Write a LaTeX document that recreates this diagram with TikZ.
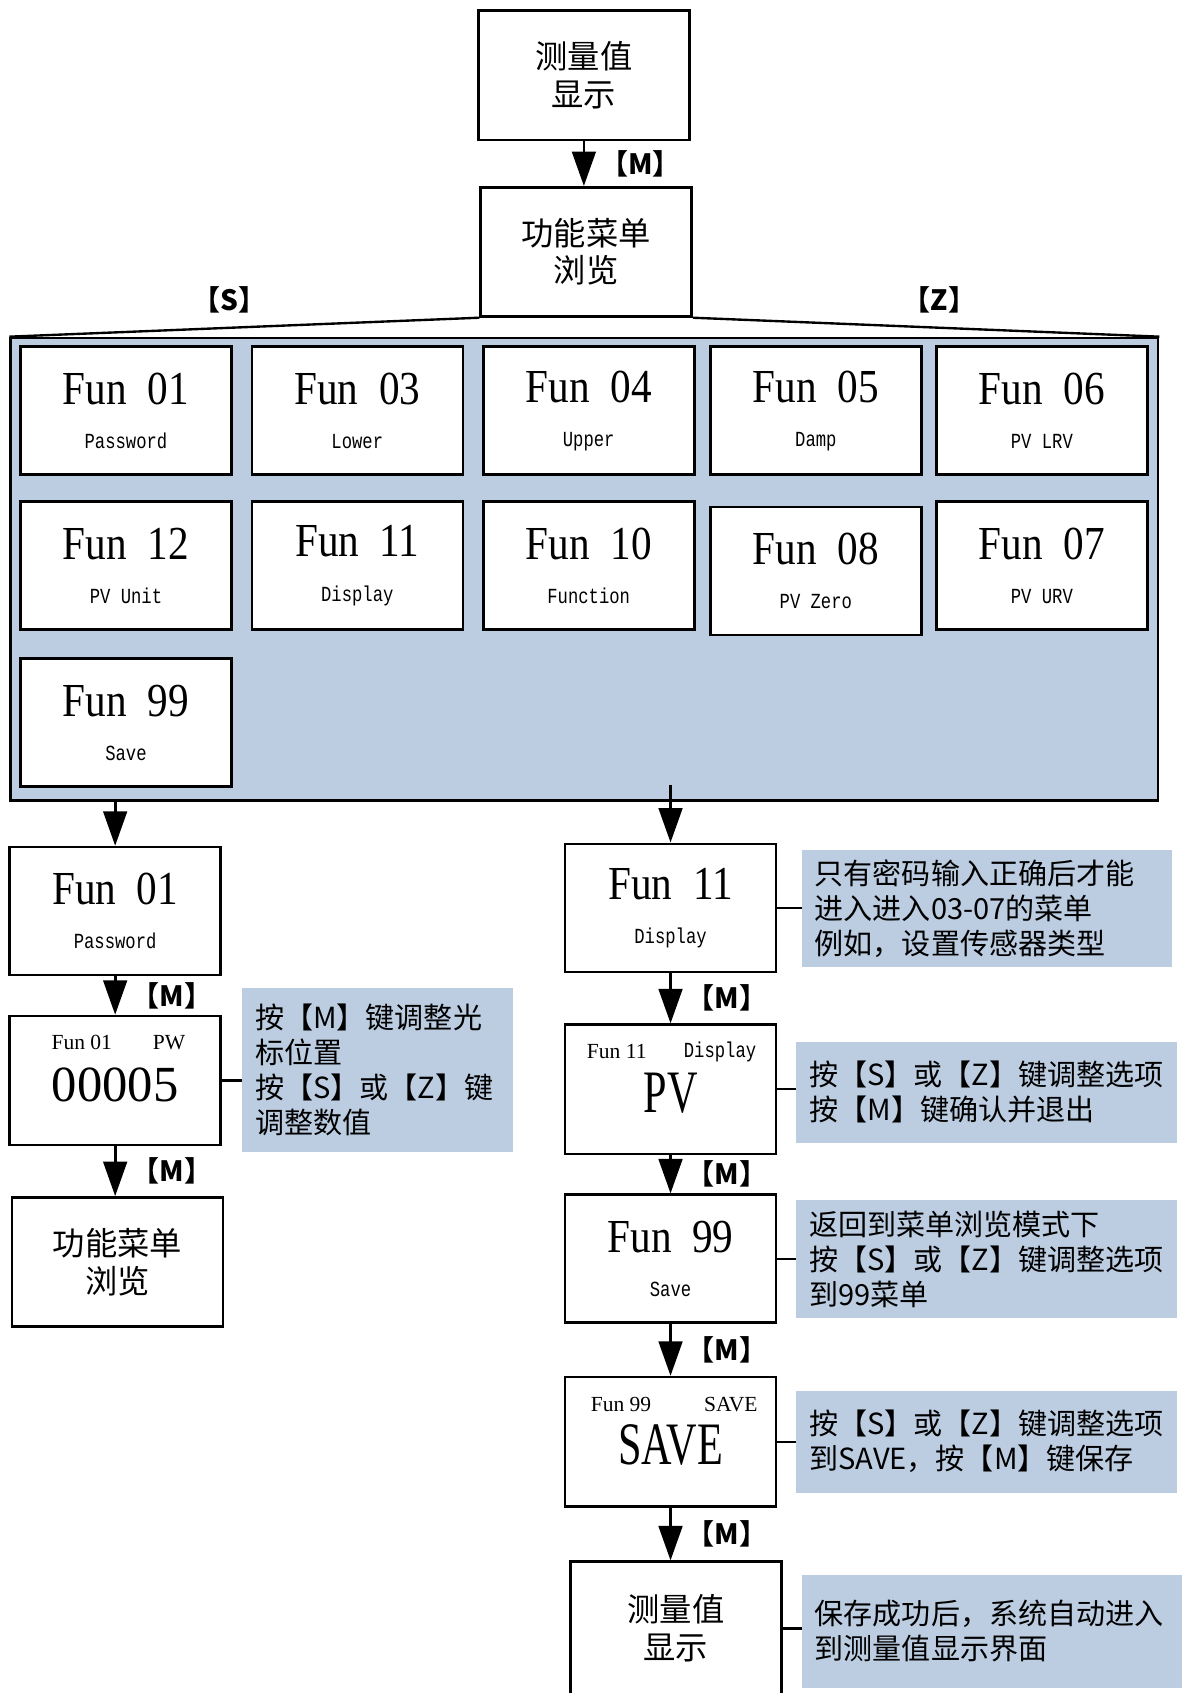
\documentclass[tikz,border=0pt]{standalone}
\usepackage{fontspec}
\setmainfont{Liberation Serif}
\newfontfamily\cjk{Noto Sans CJK SC}
\newfontfamily\narrow[FakeStretch=0.87]{Liberation Serif}
\newfontfamily\capnarrow[FakeStretch=0.7]{Liberation Serif}
\newfontfamily\smallmono[FakeStretch=0.8]{Liberation Mono}
\usetikzlibrary{positioning}
\usetikzlibrary{arrows.meta}
\definecolor{panelblue}{RGB}{188,205,225}
\newcommand{\cellsub}[1]{{\smallmono\fontsize{20}{20}\selectfont #1}}
\tikzset{menubox/.style={draw, line width=2.4pt, fill=white, minimum width=196pt, minimum height=120pt, inner sep=0pt, align=center, font=\cjk\fontsize{30}{35}\selectfont},
  funcell/.style={menubox, minimum height=119pt, font=\narrow\fontsize{44}{44}\selectfont},
  notebox/.style={fill=panelblue, inner xsep=12pt, inner ysep=0pt, align=left, font=\cjk\fontsize{27}{32.5}\selectfont},
  keylabel/.style={font=\cjk\bfseries\fontsize{26}{26}\selectfont, inner sep=0pt},
  hdrtext/.style={font=\fontsize{20}{20}\selectfont, inner sep=0pt},
  bigtext/.style={font=\capnarrow\fontsize{56}{56}\selectfont, inner sep=0pt},
  post/.style={-{Triangle[length=32pt, width=22pt]}, line width=2.5pt},
  conn/.style={line width=2.2pt}}
\begin{document}
\begin{tikzpicture}[x=1pt, y=-1pt]
  \useasboundingbox (0,0) rectangle (1100,1573);

  % top
  \node (meas) at (542.5,70) [menubox] {测量值\\显示};
  \node (menu) at (544.5,234) [menubox] {功能菜单\\浏览};
  \draw[post] (meas.south) -- node[keylabel, right=14pt] {【M】} (meas.south |- menu.north);

  % menu panel
  \node (panel) at (543,529) [draw, line width=2.4pt, fill=panelblue, minimum width=1066pt, minimum height=430pt, inner sep=0pt] {};
  \draw[conn] (menu.south west) -- (panel.north west);
  \draw[conn] (menu.south east) -- (panel.north east);
  \node (keyS) at (213,279) [keylabel] {【S】};
  \node (keyZ) at (873,279) [keylabel] {【Z】};

  \node (f01) at (117,381.5) [funcell] {Fun\ \ 01\\[-3pt]\cellsub{Password}};
  \node (f03) at (332,381.5) [funcell] {Fun\ \ 03\\[-3pt]\cellsub{Lower}};
  \node (f04) at (547,381.5) [funcell] {Fun\ \ 04\\[-3pt]\cellsub{Upper}};
  \node (f05) at (758,381.5) [funcell] {Fun\ \ 05\\[-3pt]\cellsub{Damp}};
  \node (f06) at (968,381.5) [funcell] {Fun\ \ 06\\[-3pt]\cellsub{PV LRV}};
  \node (f12) at (117,525.5) [funcell] {Fun\ \ 12\\[-3pt]\cellsub{PV Unit}};
  \node (f11) at (332,525.5) [funcell] {Fun\ \ 11\\[-3pt]\cellsub{Display}};
  \node (f10) at (547,525.5) [funcell] {Fun\ \ 10\\[-3pt]\cellsub{Function}};
  \node (f08) at (758,530.5) [funcell] {Fun\ \ 08\\[-3pt]\cellsub{PV Zero}};
  \node (f07) at (968,525.5) [funcell] {Fun\ \ 07\\[-3pt]\cellsub{PV URV}};
  \node (f99) at (117,671.5) [funcell] {Fun\ \ 99\\[-3pt]\cellsub{Save}};

  % left column
  \node (l01) at (107,846.5) [funcell] {Fun\ \ 01\\[-3pt]\cellsub{Password}};
  \node (lpw) at (107,1004) [menubox] {};
  \node (lpwa) at (76,969) [hdrtext] {Fun 01};
  \node (lpwb) at (157,969) [hdrtext] {PW};
  \node (lpwc) at (107,1008) [font=\fontsize{47}{47}\selectfont, inner sep=0pt] {00005};
  \node (lmenu) at (109,1172.5) [menubox] {功能菜单\\浏览};
  \node (n1) at (351,994) [notebox, text width=228pt, minimum height=152pt] {按【M】键调整光\\标位置\\按【S】或【Z】键\\调整数值};
  \draw[post] (l01.north |- panel.south) -- (l01.north);
  \draw[post] (l01.south) -- node[keylabel, right=14pt] {【M】} (l01.south |- lpw.north);
  \draw[post] (lpw.south) -- node[keylabel, right=14pt] {【M】} (lpw.south |- lmenu.north);
  \draw[conn] (lpw.east) -- (lpw.east -| n1.west);

  % right column
  \node (r11) at (623,843.5) [funcell] {Fun\ \ 11\\[-3pt]\cellsub{Display}};
  \node (rpv) at (623,1012) [menubox] {};
  \node (rpva) at (573,977) [hdrtext] {Fun 11};
  \node (rpvb) at (669,977) [hdrtext] {\cellsub{Display}};
  \node (rpvc) at (623,1016) [bigtext] {PV};
  \node (r99) at (623,1169.5) [funcell] {Fun\ \ 99\\[-3pt]\cellsub{Save}};
  \node (rsave) at (623,1339.5) [menubox] {};
  \node (rsavea) at (577,1305) [hdrtext] {Fun 99};
  \node (rsaveb) at (679,1305) [hdrtext] {SAVE};
  \node (rsavec) at (623,1343) [bigtext] {SAVE};
  \node (rmeas) at (628,1513) [menubox, minimum height=124pt] {测量值\\显示};

  \node (n2) at (917,844) [notebox, text width=320pt, minimum height=108pt] {只有密码输入正确后才能\\进入进入03-07的菜单\\例如，设置传感器类型};
  \node (n3) at (917,1015) [notebox, text width=330pt, minimum height=94pt] {按【S】或【Z】键调整选项\\按【M】键确认并退出};
  \node (n4) at (917,1170) [notebox, text width=330pt, minimum height=110pt] {返回到菜单浏览模式下\\按【S】或【Z】键调整选项\\到99菜单};
  \node (n5) at (917,1339.5) [notebox, text width=330pt, minimum height=95pt] {按【S】或【Z】键调整选项\\到SAVE，按【M】键保存};
  \node (n6) at (921.5,1515.5) [notebox, text width=329pt, minimum height=105pt] {保存成功后，系统自动进入\\到测量值显示界面};

  \draw[post] ([yshift=16pt]r11.north |- panel.south) -- (r11.north);
  \draw[post] (r11.south) -- node[keylabel, right=14pt] {【M】} (r11.south |- rpv.north);
  \draw[post] (rpv.south) -- node[keylabel, right=14pt] {【M】} (rpv.south |- r99.north);
  \draw[post] (r99.south) -- node[keylabel, right=14pt] {【M】} (r99.south |- rsave.north);
  \draw[post] (rsave.south) -- node[keylabel, right=14pt] {【M】} (rsave.south |- rmeas.north);
  \draw[conn] (r11.east) -- (r11.east -| n2.west);
  \draw[conn] (rpv.east) -- (rpv.east -| n3.west);
  \draw[conn] (r99.east) -- (r99.east -| n4.west);
  \draw[conn] (rsave.east) -- (rsave.east -| n5.west);
  \draw[conn] (rmeas.east) -- (rmeas.east -| n6.west);

\end{tikzpicture}
\end{document}
